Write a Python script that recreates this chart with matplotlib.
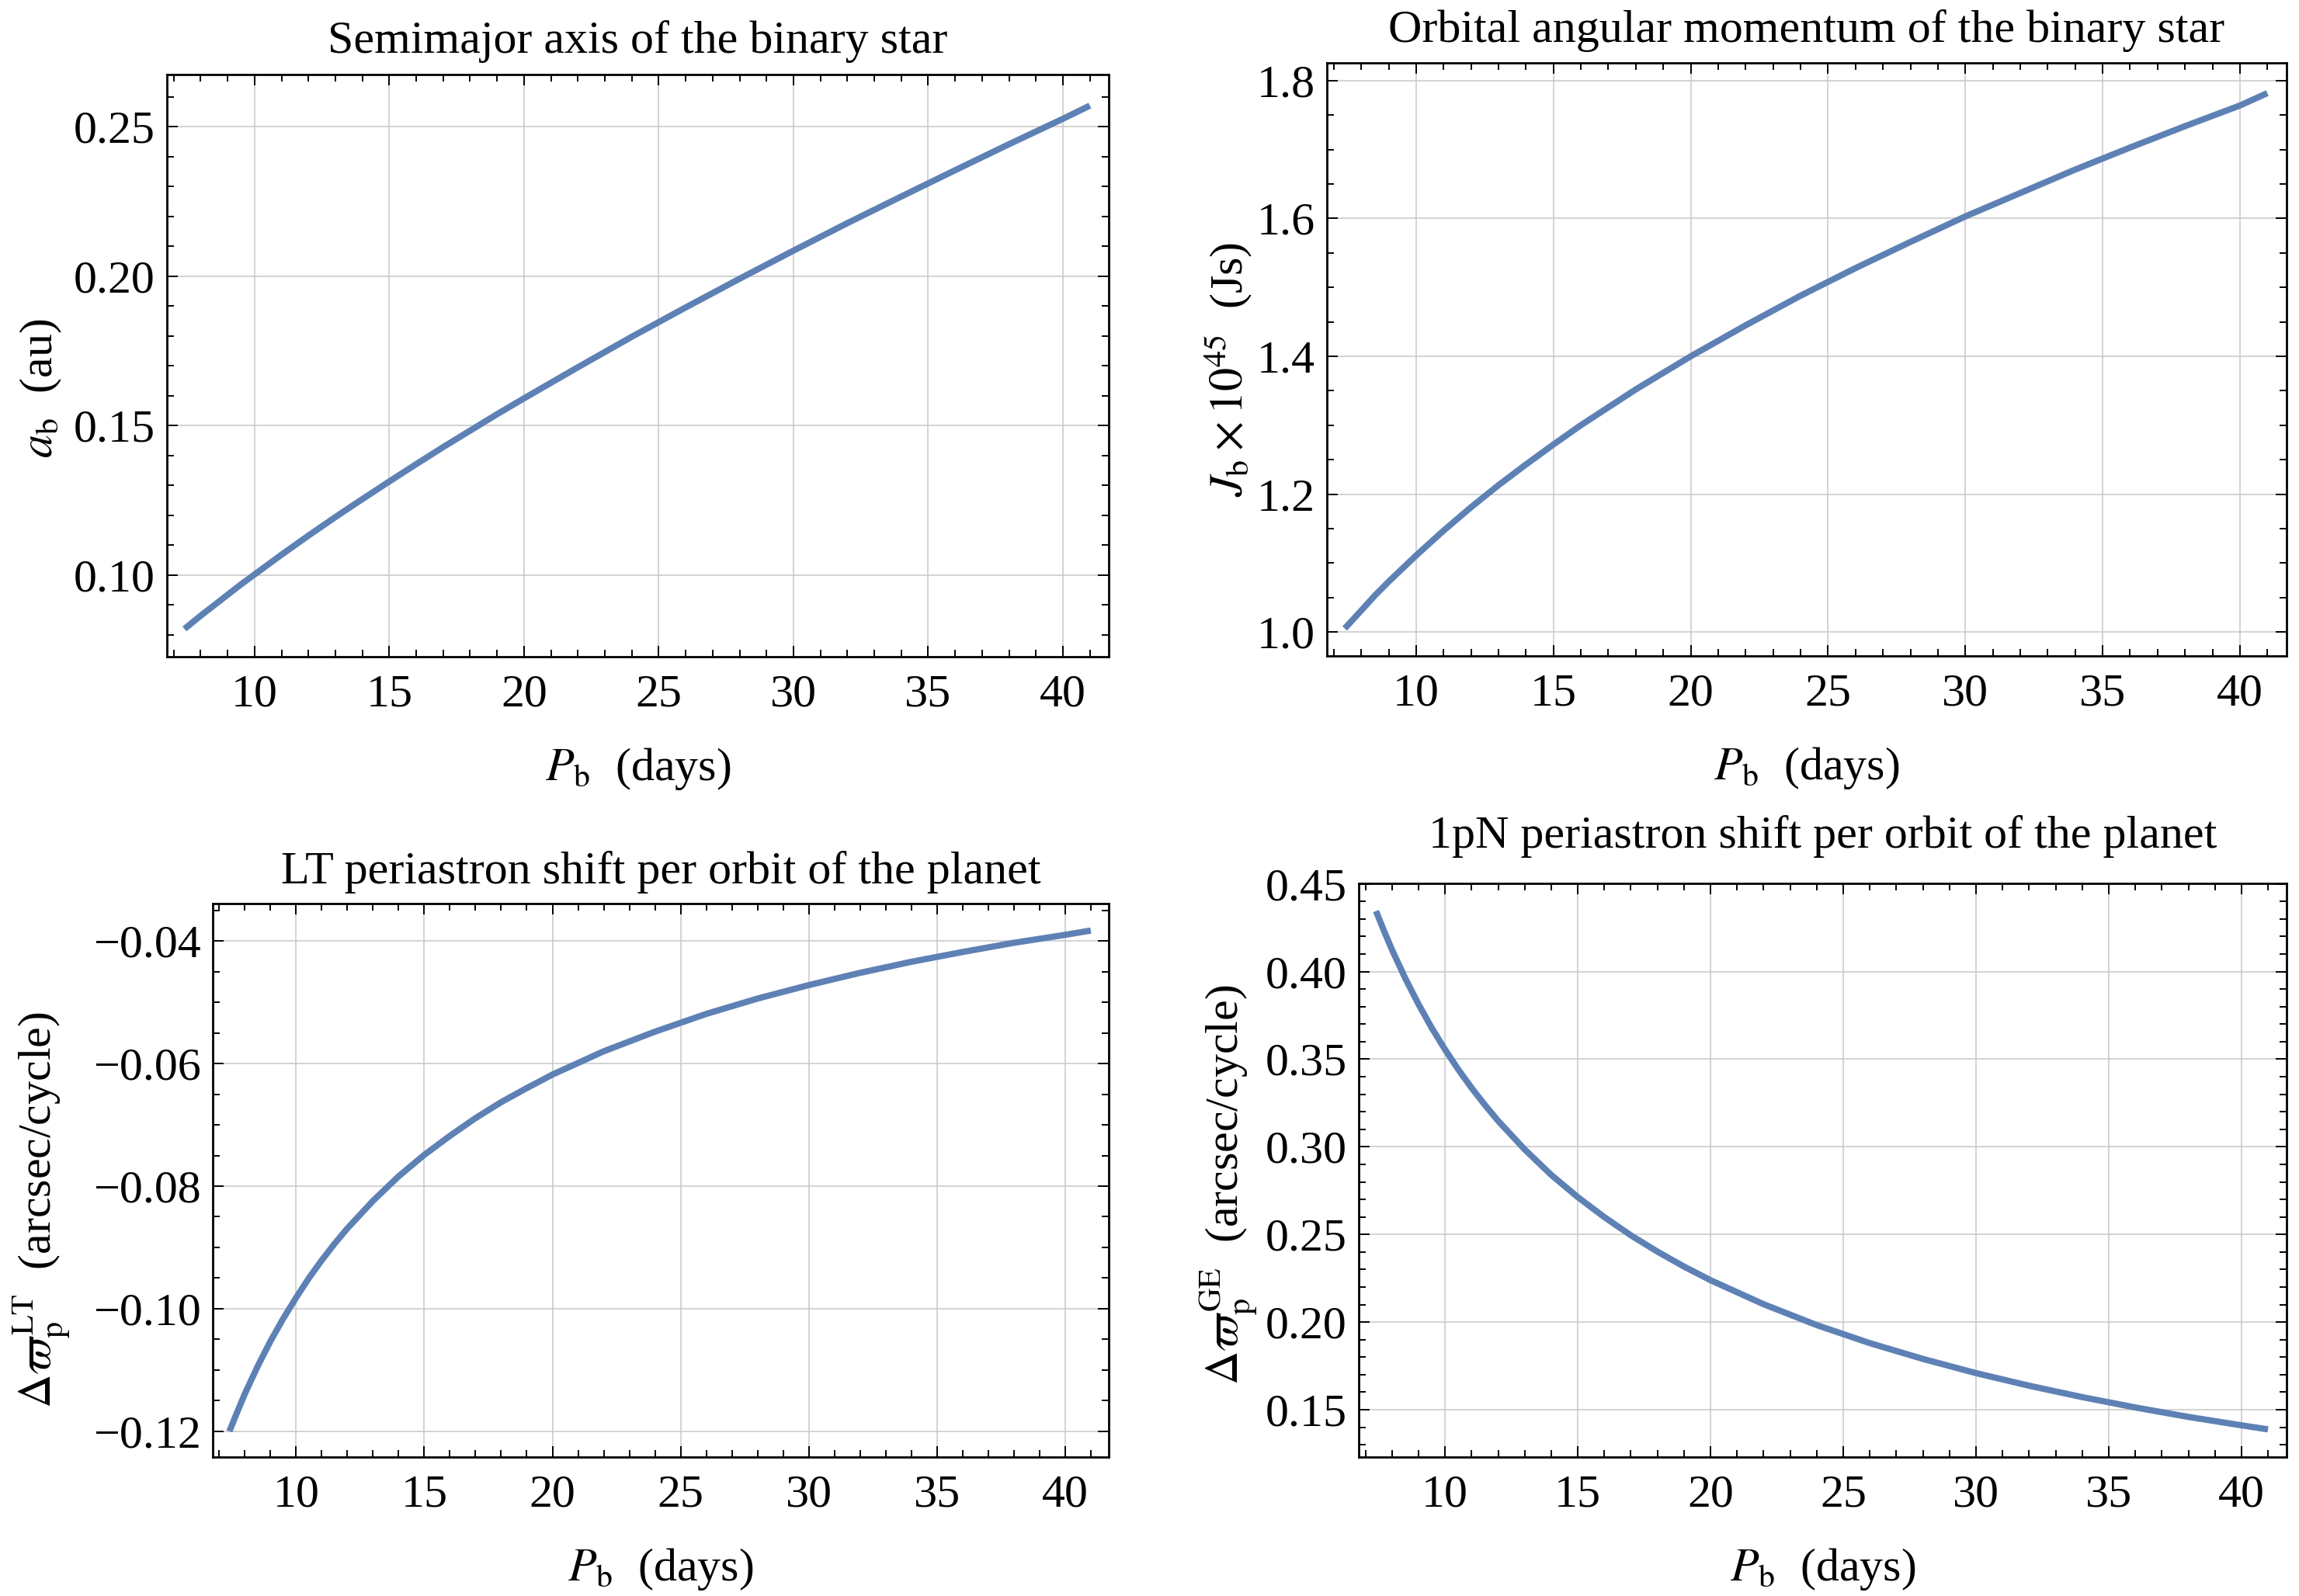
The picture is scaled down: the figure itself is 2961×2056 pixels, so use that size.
"""
Binary star + circumbinary planet: orbital quantities vs. binary period
(semimajor axis, orbital angular momentum, LT and 1pN periastron shifts).
"""
import numpy as np
import matplotlib
matplotlib.use("Agg")
import matplotlib.pyplot as plt
from matplotlib.ticker import MultipleLocator, FuncFormatter

plt.rcParams["font.family"] = ["Liberation Serif", "DejaVu Serif"]
plt.rcParams["mathtext.fontset"] = "stix"

# ---------------------------------------------------------------------------
#  Data
# ---------------------------------------------------------------------------
P_b = [7.4, 7.7, 8, 8.5, 9, 9.5, 10, 10.5, 11, 11.5, 12, 13, 14, 15, 16,
       17, 18, 19, 20, 22, 24, 26, 28, 30, 32, 34, 36, 38, 40, 41]

# semimajor axis of the binary (au)
a_b = [0.0820, 0.0842, 0.0864, 0.0899, 0.0934, 0.0969, 0.1002, 0.1035,
       0.1068, 0.1100, 0.1132, 0.1194, 0.1254, 0.1313, 0.1371, 0.1428,
       0.1483, 0.1538, 0.1591, 0.1695, 0.1797, 0.1895, 0.1991, 0.2085,
       0.2177, 0.2266, 0.2354, 0.2441, 0.2526, 0.2570]

# orbital angular momentum of the binary (x 1e45 J s)
J_b = [1.005, 1.018, 1.031, 1.053, 1.073, 1.092, 1.111, 1.129, 1.147,
       1.164, 1.181, 1.213, 1.243, 1.272, 1.300, 1.326, 1.352, 1.376,
       1.400, 1.445, 1.488, 1.528, 1.566, 1.603, 1.637, 1.671, 1.703,
       1.734, 1.764, 1.782]

# Lense-Thirring periastron shift of the planet (arcsec / cycle)
dw_LT = [-0.1200, -0.1169, -0.1139, -0.1094, -0.1053, -0.1016, -0.0982,
         -0.0950, -0.0921, -0.0894, -0.0869, -0.0824, -0.0784, -0.0749,
         -0.0718, -0.0689, -0.0663, -0.0640, -0.0618, -0.0580, -0.0548,
         -0.0519, -0.0494, -0.0472, -0.0452, -0.0434, -0.0418, -0.0403,
         -0.0390, -0.0383]

# 1pN (gravitoelectric) periastron shift of the planet (arcsec / cycle)
dw_GE = [0.4345, 0.4232, 0.4125, 0.3962, 0.3814, 0.3678, 0.3555, 0.3441,
         0.3336, 0.3239, 0.3148, 0.2985, 0.2840, 0.2713, 0.2599, 0.2495,
         0.2402, 0.2317, 0.2239, 0.2102, 0.1983, 0.1880, 0.1790, 0.1709,
         0.1637, 0.1572, 0.1513, 0.1459, 0.1411, 0.1388]

LINE = "#5e81b5"
FS = 21.6

# ---------------------------------------------------------------------------
#  Plotting
# ---------------------------------------------------------------------------
fig = plt.figure(figsize=(14.805, 10.28), dpi=200)


def fmt(decimals):
    return FuncFormatter(lambda v, pos: f"{v:.{decimals}f}".replace("-", "\u2212"))


def panel(rect, y, title, ylabel, ylim, major, minor, dec, tpad, ylab_xy):
    ax = fig.add_axes(rect)
    ax.plot(P_b, y, color=LINE, lw=2.9, solid_capstyle="butt",
            solid_joinstyle="round", zorder=3)
    ax.set_xlim(6.75, 41.7)
    ax.set_ylim(*ylim)
    ax.xaxis.set_major_locator(MultipleLocator(5))
    ax.xaxis.set_minor_locator(MultipleLocator(1))
    ax.yaxis.set_major_locator(MultipleLocator(major))
    ax.yaxis.set_minor_locator(MultipleLocator(minor))
    ax.yaxis.set_major_formatter(fmt(dec))
    ax.grid(True, which="major", color="#c8c8c8", lw=0.55)
    ax.set_axisbelow(True)
    ax.tick_params(which="both", direction="in", top=True, right=True,
                   width=0.7, labelsize=FS)
    ax.tick_params(which="major", length=5)
    ax.tick_params(which="minor", length=3.2)
    ax.tick_params(axis="x", pad=8)
    ax.tick_params(axis="y", pad=5.5)
    for s in ax.spines.values():
        s.set_linewidth(1.0)
    ax.set_title(title, fontsize=FS, pad=tpad)
    ax.set_xlabel(r"$P_{\rm b}$  (days)", fontsize=FS, labelpad=14)
    ax.set_ylabel(ylabel, fontsize=FS)
    ax.yaxis.label.set_va("center")
    ax.yaxis.set_label_coords(*ylab_xy)
    return ax


panel([0.07261, 0.58852, 0.40966, 0.36479], a_b,
      "Semimajor axis of the binary star", r"$a_{\rm b}$  (au)",
      (0.0727, 0.2674), 0.05, 0.01, 2, 10, (-0.134, 0.461))

panel([0.57717, 0.58901, 0.41743, 0.37160], J_b,
      "Orbital angular momentum of the binary star",
      r"$J_{\rm b}\times 10^{45}$  (Js)",
      (0.9651, 1.8259), 0.2, 0.05, 1, 9.7, (-0.103, 0.483))

panel([0.09254, 0.08706, 0.38973, 0.34679], dw_LT,
      "LT periastron shift per orbit of the planet",
      r"$\Delta\varpi_{\rm p}^{\rm LT}$  (arcsec/cycle)",
      (-0.1242, -0.0339), 0.02, 0.005, 2, 9.4, (-0.191, 0.447))

panel([0.59102, 0.08706, 0.40358, 0.35944], dw_GE,
      "1pN periastron shift per orbit of the planet",
      r"$\Delta\varpi_{\rm p}^{\rm GE}$  (arcsec/cycle)",
      (0.1230, 0.4503), 0.05, 0.01, 2, 16.5, (-0.141, 0.474))

fig.savefig("out.png", dpi=200)
